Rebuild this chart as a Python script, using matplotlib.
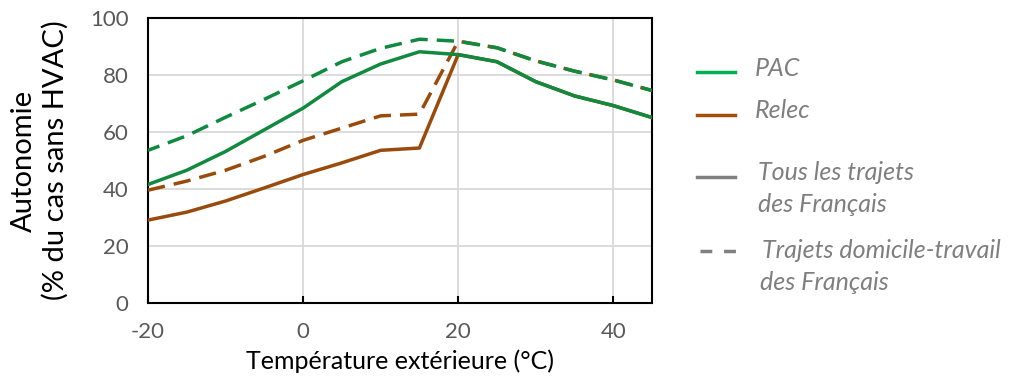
import numpy as np
import matplotlib.pyplot as plt
from matplotlib.lines import Line2D

plt.rcParams['font.family'] = ['Lato', 'DejaVu Sans']
plt.rcParams['axes.unicode_minus'] = False

temp = [-20, -15, -10, -5, 0, 5, 10, 15, 20, 25, 30, 35, 40, 45]

pac_tous = [41.6, 46.6, 53.2, 60.8, 68.4, 77.7, 83.9, 88.2, 87.2, 84.7, 77.7, 72.7, 69.3, 65.1]
pac_dt = [53.6, 58.7, 65.2, 71.5, 78.0, 84.7, 89.4, 92.6, 91.9, 89.6, 85.0, 81.4, 78.3, 74.6]
relec_tous = [29.1, 31.9, 35.8, 40.4, 45.1, 49.2, 53.6, 54.4, 87.2, 84.7, 77.7, 72.7, 69.3, 65.1]
relec_dt = [39.6, 42.8, 46.6, 51.5, 57.1, 61.4, 65.7, 66.3, 91.9, 89.6, 85.0, 81.4, 78.3, 74.6]

green = '#0f8a3e'
brown = '#9a4b0c'
gray_txt = '#7f7f7f'

fig = plt.figure(figsize=(10.15, 3.78), dpi=100)
ax = fig.add_axes([0.1458, 0.1984, 0.4966, 0.7536])

lw = 2.5
ax.plot(temp, relec_tous, color=brown, lw=lw, zorder=3)
ax.plot(temp, relec_dt, color=brown, lw=lw, linestyle=(0, (5, 2.6)), zorder=3)
ax.plot(temp, pac_tous, color=green, lw=lw, zorder=4)
ax.plot(temp, pac_dt, color=green, lw=lw, linestyle=(1.5, (5, 2.6)), zorder=4)

ax.set_xlim(-20, 45)
ax.set_ylim(0, 100)
ax.set_xticks([-20, 0, 20, 40])
ax.set_yticks([0, 20, 40, 60, 80, 100])
ax.grid(True, color='#d9d9d9', lw=1.3)
ax.set_axisbelow(True)
for s in ax.spines.values():
    s.set_color('black')
    s.set_linewidth(1.5)
ax.tick_params(axis='x', direction='in', length=5, width=1.5, colors='black',
               labelcolor='#595959', labelsize=16, pad=14)
ax.tick_params(axis='y', length=0, labelcolor='#595959', labelsize=16, pad=14)

ax.set_xlabel('Température extérieure (°C)', fontsize=18, labelpad=5)
ax.set_ylabel('Autonomie\n(% du cas sans HVAC)', fontsize=21, labelpad=15, linespacing=1.25)

# legend drawn by hand in figure coordinates
W, H = 1015, 378
def fx(px):
    return px / W
def fy(py):
    return 1 - py / H

items = [
    (72, '#00b050', '-', [('PAC', 755, 68)]),
    (115, '#a0500a', '-', [('Relec', 755, 110)]),
    (177, '#808080', '-', [('Tous les trajets', 758, 173), ('des Français', 758, 205)]),
    (251, '#808080', '--', [('Trajets domicile-travail', 762, 250), ('des Français', 760, 282)]),
]
for y, c, ls, texts in items:
    if ls == '-':
        fig.add_artist(Line2D([fx(697), fx(735)], [fy(y), fy(y)], color=c, lw=2.5))
    else:
        fig.add_artist(Line2D([fx(700), fx(736)], [fy(y), fy(y)], color=c, lw=2.5,
                              linestyle=(0, (3.4, 3.4))))
    for t, x0, y0 in texts:
        fig.text(fx(x0), fy(y0), t, fontsize=18, style='italic',
                 color=gray_txt, va='center', ha='left')

fig.savefig('out.png', dpi=100)
